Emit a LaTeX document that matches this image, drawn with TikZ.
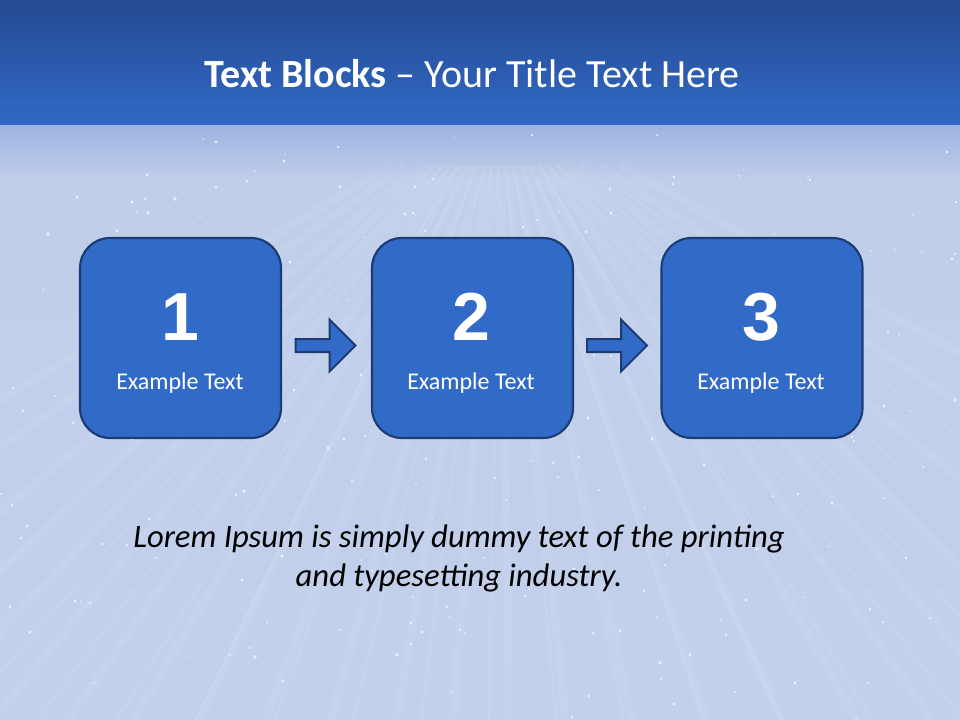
\documentclass[tikz,border=0pt]{standalone}
\usepackage{fontspec}
\usetikzlibrary{calc}
\setmainfont{Carlito}
\newfontfamily\numfont{Liberation Sans}
\definecolor{bandtop}{HTML}{254A92}
\definecolor{bandbot}{HTML}{3169C6}
\definecolor{floortop}{HTML}{9DB3E0}
\definecolor{floormid}{HTML}{C0CEEA}
\definecolor{floorbot}{HTML}{C3D0EC}
\definecolor{boxfill}{HTML}{326AC8}
\definecolor{boxline}{HTML}{1C3B73}
\tikzset{
  stepbox/.style={draw=boxline, line width=1.6pt, fill=boxfill, rounded corners=22.5pt,
    minimum width=150.75pt, minimum height=150pt, inner sep=0pt},
  numtext/.style={text=white, font=\numfont\bfseries\fontsize{51}{51}\selectfont, anchor=base},
  exampletext/.style={text=white, font=\fontsize{18}{21}\selectfont, anchor=base},
  flowarrow/.style={draw=boxline, line width=1.5pt, fill=boxfill, line join=miter},
  streak/.style={white, line width=6pt, opacity=0.07},
  thinstreak/.style={white, line width=2pt, opacity=0.08},
  star/.style={fill=white, opacity=0.7},
  bodytext/.style={anchor=base, text=black, font=\itshape\fontsize{24.5}{29}\selectfont}
}
\begin{document}
\begin{tikzpicture}[x=0.75pt,y=-0.75pt]
\useasboundingbox (0,0) rectangle (960,720);
% background
\shade[top color=bandtop, bottom color=bandbot] (0,0) rectangle (960,126);
\fill[floormid] (0,126) rectangle (960,720);
\shade[top color=floortop, bottom color=floormid] (0,126) rectangle (960,180);
\shade[top color=floormid, bottom color=floorbot] (0,180) rectangle (960,720);
\begin{scope}
\clip (0,127) rectangle (960,720);
\coordinate (vp) at (500,100);
\foreach \ex in {-600,-450,-300,-200,-120,-40,40,110,180,250,320,390,450,510,570,640,720,800,880,960,1050,1150,1300,1500,1700}{
  \draw[streak] ($(vp)!0.1!(\ex,760)$) -- (\ex,760);
}
\foreach \ex in {20,90,160,230,300,370,430,490,550,610,680,750,830,910,990,1100,1250}{
  \draw[thinstreak] ($(vp)!0.1!(\ex*1.2-100,760)$) -- (\ex*1.2-100,760);
}
\pgfmathsetseed{4242}
\foreach \i in {1,...,260}{
  \pgfmathsetmacro{\sx}{random(0,960)}
  \pgfmathsetmacro{\sy}{random(132,720)}
  \pgfmathsetmacro{\sr}{0.6+rnd*1.2}
  \fill[star] (\sx,\sy) circle[radius=\sr];
}
\end{scope}
% title
\node[anchor=base, text=white, font=\fontsize{30}{36}\selectfont] (title) at (472,88)
  {\textbf{Text Blocks} – Your Title Text Here};
% boxes
\node[stepbox] (b1) at (180.5,338) {};
\node[stepbox] (b2) at (472.5,338) {};
\node[stepbox] (b3) at (762,338) {};
\node[numtext] (n1) at (180,340) {1};
\node[numtext] (n2) at (471,340) {2};
\node[numtext] (n3) at (761,340) {3};
\node[exampletext] (e1) at (180,389) {Example Text};
\node[exampletext] (e2) at (471,389) {Example Text};
\node[exampletext] (e3) at (761,389) {Example Text};
% arrows
\coordinate (a1) at (295.5,345.5);
\coordinate (a2) at (587,345.5);
\draw[flowarrow] (a1) ++(0,-6.5) -- ++(34,0) -- ++(0,-19.5) -- ++(26,26) -- ++(-26,26) -- ++(0,-19.5) -- ++(-34,0) -- cycle;
\draw[flowarrow] (a2) ++(0,-6.5) -- ++(34,0) -- ++(0,-19.5) -- ++(26,26) -- ++(-26,26) -- ++(0,-19.5) -- ++(-34,0) -- cycle;
% bottom text
\node[bodytext] (lorem) at (459,547) {Lorem Ipsum is simply dummy text of the printing};
\node[bodytext] (lorem2) at (459,586) {and typesetting industry.};
\end{tikzpicture}
\end{document}
